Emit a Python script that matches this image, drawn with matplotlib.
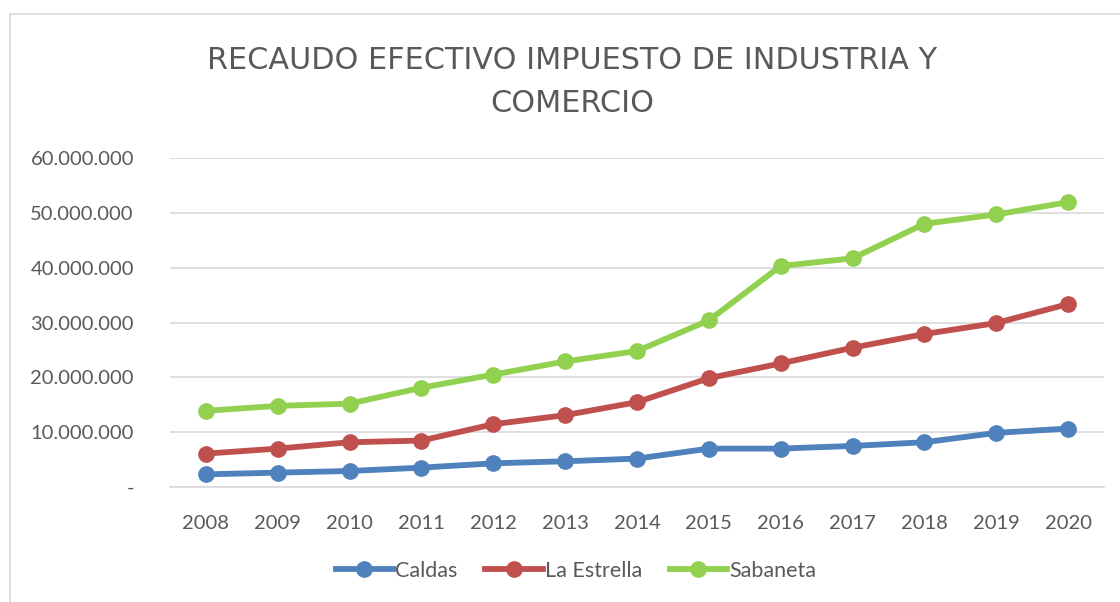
import matplotlib
matplotlib.use("Agg")
import matplotlib.pyplot as plt
from matplotlib.lines import Line2D
from matplotlib.ticker import FuncFormatter

years = [2008, 2009, 2010, 2011, 2012, 2013, 2014, 2015, 2016, 2017, 2018, 2019, 2020]
caldas = [2.31e6, 2.62e6, 2.92e6, 3.53e6, 4.32e6, 4.69e6, 5.18e6, 7.0e6, 7.0e6, 7.49e6, 8.16e6, 9.87e6, 10.66e6]
la_estrella = [6.09e6, 7.0e6, 8.16e6, 8.47e6, 11.45e6, 13.1e6, 15.47e6, 19.85e6, 22.53e6, 25.4e6, 27.9e6, 29.9e6, 33.37e6]
sabaneta = [13.9e6, 14.8e6, 15.2e6, 18.1e6, 20.5e6, 22.9e6, 24.79e6, 30.39e6, 40.3e6, 41.7e6, 48.0e6, 49.7e6, 51.95e6]
series_names = ["Caldas", "La Estrella", "Sabaneta"]
colors = ["#4F81BD", "#C0504D", "#92D050"]
yticks = [0, 10e6, 20e6, 30e6, 40e6, 50e6, 60e6]

W, H = 1120, 602
fig = plt.figure(figsize=(W / 100, H / 100), dpi=100)
ax = fig.add_axes([170 / W, 1 - 487 / H, (1104 - 170) / W, (487 - 158) / H])

txt = "#595959"
font = ["Lato", "DejaVu Sans"]

x = range(len(years))
for vals, c, name in zip([caldas, la_estrella, sabaneta], colors, series_names):
    ax.plot(x, vals, color=c, lw=4.2, marker="o", ms=11, label=name,
            solid_capstyle="round", zorder=3)

ax.set_xlim(-0.5, len(years) - 0.5)
ax.set_ylim(0, 60e6)
ax.set_yticks(yticks)
ax.set_xticks(list(x))
ax.set_xticklabels([str(y) for y in years])

def fmt(v, pos):
    if v == 0:
        return "-"
    return f"{int(v):,}".replace(",", ".")

ax.yaxis.set_major_formatter(FuncFormatter(fmt))
ax.grid(axis="y", color="#D9D9D9", lw=1.2)
ax.set_axisbelow(True)
for s in ["top", "right", "left"]:
    ax.spines[s].set_visible(False)
ax.spines["bottom"].set_color("#D9D9D9")
ax.spines["bottom"].set_linewidth(1.2)
ax.tick_params(axis="both", length=0, labelcolor=txt, labelsize=14.5)
ax.tick_params(axis="y", pad=26)
ax.tick_params(axis="x", pad=20)
for lab in ax.get_xticklabels() + ax.get_yticklabels():
    lab.set_family(font)

fig.text(572 / W, 1 - 82 / H, "RECAUDO EFECTIVO IMPUESTO DE INDUSTRIA Y\nCOMERCIO",
         ha="center", va="center", fontsize=21.8, color=txt, linespacing=1.6,
         family=["Liberation Sans Narrow", "DejaVu Sans"])

handles = [Line2D([0], [0], color=c, lw=4.2, marker="o", ms=11) for c in colors]
leg = fig.legend(handles, series_names, loc="center", bbox_to_anchor=(576 / W, 1 - 571 / H),
                 ncol=3, frameon=False, handlelength=2.65, handletextpad=0.1,
                 columnspacing=1.3, prop={"family": font, "size": 15.5})
for t in leg.get_texts():
    t.set_color(txt)

# chart area border (top and left only visible)
fig.add_artist(Line2D([10 / W, 1.0], [1 - 14 / H, 1 - 14 / H], color="#D9D9D9", lw=1.2,
                      transform=fig.transFigure))
fig.add_artist(Line2D([10 / W, 10 / W], [0, 1 - 14 / H], color="#D9D9D9", lw=1.2,
                      transform=fig.transFigure))

fig.savefig("out.png", dpi=100)
